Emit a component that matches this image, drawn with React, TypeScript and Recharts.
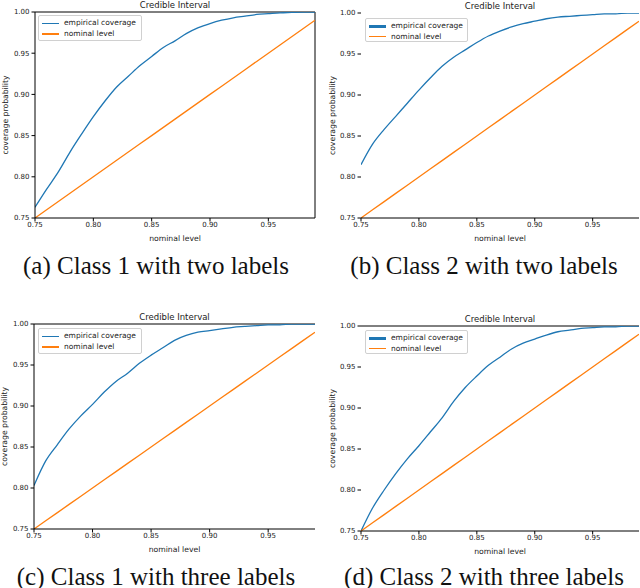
import React from 'react'
import { LineChart, Line, XAxis, YAxis, ReferenceLine, Legend } from 'recharts'

// nominal levels on the x axis
const LEVELS = [
  0.75, 0.76, 0.77, 0.78, 0.79, 0.8, 0.81, 0.82, 0.83, 0.84, 0.85, 0.86, 0.87,
  0.88, 0.89, 0.9, 0.91, 0.92, 0.93, 0.94, 0.95, 0.96, 0.97, 0.98, 0.99,
]
// the orange reference line (coverage = nominal level)
const NOMINAL = [
  0.75, 0.76, 0.77, 0.78, 0.79, 0.8, 0.81, 0.82, 0.83, 0.84, 0.85, 0.86, 0.87,
  0.88, 0.89, 0.9, 0.91, 0.92, 0.93, 0.94, 0.95, 0.96, 0.97, 0.98, 0.99,
]

// empirical coverage, one array per panel
const EMP_A = [
  0.763, 0.785, 0.806, 0.83, 0.852, 0.873, 0.892, 0.909, 0.922, 0.935, 0.946,
  0.957, 0.965, 0.974, 0.981, 0.986, 0.99, 0.993, 0.995, 0.997, 0.998, 0.999,
  0.9995, 1.0, 1.0,
]
const EMP_B = [
  0.815, 0.84, 0.858, 0.874, 0.89, 0.906, 0.921, 0.935, 0.946, 0.955, 0.964,
  0.972, 0.978, 0.983, 0.987, 0.99, 0.993, 0.995, 0.996, 0.997, 0.998, 0.999,
  0.999, 1.0, 1.0,
]
const EMP_C = [
  0.803, 0.833, 0.853, 0.872, 0.888, 0.902, 0.917, 0.93, 0.94, 0.952, 0.962,
  0.971, 0.98, 0.986, 0.99, 0.992, 0.994, 0.996, 0.997, 0.998, 0.999, 0.999,
  1.0, 1.0, 1.0,
]
const EMP_D = [
  0.75, 0.778, 0.8, 0.82, 0.838, 0.854, 0.871, 0.888, 0.908, 0.925, 0.939,
  0.952, 0.962, 0.972, 0.979, 0.984, 0.989, 0.993, 0.995, 0.997, 0.998, 0.999,
  0.999, 1.0, 1.0,
]

const X_TICKS = [0.75, 0.8, 0.85, 0.9, 0.95]
const Y_TICKS = [0.75, 0.8, 0.85, 0.9, 0.95, 1.0]
const CAPTIONS = [
  '(a) Class 1 with two labels',
  '(b) Class 2 with two labels',
  '(c) Class 1 with three labels',
  '(d) Class 2 with three labels',
]

const BLUE = '#1f77b4'
const ORANGE = '#ff7f0e'
const SANS = 'DejaVu Sans'
const SERIF = '"Liberation Serif", "Times New Roman", serif'

type Box = { left: number; top: number; width: number; height: number }

type PanelProps = {
  empirical: number[]
  left: number
  top: number
  height: number
  marginTop: number
  marginRight: number
  yWidth: number
  yLabelX: number
  legend: Box
  thick: 'blue' | 'orange'
  spineLeft: boolean
  spineTop: boolean
  spineRight: boolean
}

function Panel(p: PanelProps) {
  const data = LEVELS.map((x, i) => ({ x, emp: p.empirical[i], nom: NOMINAL[i] }))
  const plotLeft = p.yWidth
  const plotRight = 320 - p.marginRight
  const tick = { fontSize: 7, fill: '#222', fontFamily: SANS }

  const renderLegend = () => (
    <div
      style={{
        width: p.legend.width,
        height: p.legend.height,
        boxSizing: 'border-box',
        border: '1px solid #d0d0d0',
        borderRadius: 2,
        background: 'rgba(255,255,255,0.8)',
        fontFamily: SANS,
        fontSize: 7.5,
        color: '#222',
        paddingTop: 2,
      }}
    >
      {[
        { name: 'empirical coverage', color: BLUE, w: p.thick === 'blue' ? 2.5 : 1.3 },
        { name: 'nominal level', color: ORANGE, w: p.thick === 'orange' ? 2.5 : 1.3 },
      ].map((r) => (
        <div key={r.name} style={{ display: 'flex', alignItems: 'center', height: 10.5 }}>
          <div style={{ marginLeft: 3, width: 17, height: r.w, background: r.color }} />
          <span style={{ marginLeft: 5, lineHeight: '10px' }}>{r.name}</span>
        </div>
      ))}
    </div>
  )

  return (
    <div style={{ position: 'absolute', left: p.left, top: p.top, width: 320, height: p.height }}>
      <div
        style={{
          position: 'absolute',
          left: (plotLeft + plotRight) / 2,
          top: p.marginTop - 7,
          transform: 'translate(-50%, -50%)',
          fontFamily: SANS,
          fontSize: 8.5,
          color: '#222',
          whiteSpace: 'nowrap',
        }}
      >
        Credible Interval
      </div>
      <LineChart
        width={320}
        height={p.height}
        data={data}
        margin={{ top: p.marginTop, right: p.marginRight, bottom: 0, left: 0 }}
      >
        <XAxis
          dataKey="x"
          type="number"
          domain={[0.75, 0.99]}
          ticks={X_TICKS}
          tickFormatter={(v: number) => v.toFixed(2)}
          allowDataOverflow
          height={32}
          tick={tick}
          tickSize={3.5}
          tickMargin={1}
          stroke="#000"
          label={{
            content: ({ viewBox }: any) => (
              <text
                x={viewBox.x + viewBox.width / 2}
                y={viewBox.y + 20}
                textAnchor="middle"
                dominantBaseline="central"
                fontSize={7.7}
                fontFamily={SANS}
                fill="#222"
              >
                nominal level
              </text>
            ),
          }}
        />
        <YAxis
          type="number"
          domain={[0.75, 1.0]}
          ticks={Y_TICKS}
          tickFormatter={(v: number) => v.toFixed(2)}
          allowDataOverflow
          width={p.yWidth}
          tick={tick}
          tickSize={3.5}
          tickMargin={2}
          stroke="#000"
          axisLine={p.spineLeft}
          label={{
            content: ({ viewBox }: any) => {
              const cy = viewBox.y + viewBox.height / 2
              return (
                <text
                  x={p.yLabelX}
                  y={cy}
                  transform={`rotate(-90, ${p.yLabelX}, ${cy})`}
                  textAnchor="middle"
                  dominantBaseline="central"
                  fontSize={7.7}
                  fontFamily={SANS}
                  fill="#222"
                >
                  coverage probability
                </text>
              )
            },
          }}
        />
        {p.spineTop && <ReferenceLine y={1.0} stroke="#000" strokeWidth={1} />}
        {p.spineRight && <ReferenceLine x={0.99} stroke="#000" strokeWidth={1} />}
        <Line
          type="monotone"
          dataKey="emp"
          stroke={BLUE}
          strokeWidth={1.3}
          dot={false}
          isAnimationActive={false}
          name="empirical coverage"
        />
        <Line
          dataKey="nom"
          stroke={ORANGE}
          strokeWidth={1.3}
          dot={false}
          isAnimationActive={false}
          name="nominal level"
        />
        <Legend
          layout="vertical"
          align="center"
          verticalAlign="middle"
          content={renderLegend}
          wrapperStyle={{ left: p.legend.left, top: p.legend.top, width: p.legend.width }}
        />
      </LineChart>
    </div>
  )
}

export default function App() {
  return (
    <div style={{ position: 'absolute', left: 0, top: 0, width: 640, height: 588, background: '#fff' }}>
      <Panel
        empirical={EMP_A}
        left={0}
        top={0}
        height={250}
        marginTop={12}
        marginRight={5}
        yWidth={35}
        yLabelX={5}
        legend={{ left: 38, top: 15, width: 104, height: 26 }}
        thick="orange"
        spineLeft
        spineTop
        spineRight
      />
      <Panel
        empirical={EMP_B}
        left={320}
        top={0}
        height={250}
        marginTop={13}
        marginRight={1}
        yWidth={41}
        yLabelX={12}
        legend={{ left: 45, top: 18, width: 103, height: 24 }}
        thick="blue"
        spineLeft={false}
        spineTop={false}
        spineRight={false}
      />
      <Panel
        empirical={EMP_C}
        left={0}
        top={305}
        height={256}
        marginTop={19}
        marginRight={5}
        yWidth={34}
        yLabelX={4}
        legend={{ left: 38, top: 23, width: 104, height: 26 }}
        thick="orange"
        spineLeft
        spineTop
        spineRight={false}
      />
      <Panel
        empirical={EMP_D}
        left={320}
        top={305}
        height={258}
        marginTop={21}
        marginRight={1}
        yWidth={41}
        yLabelX={12}
        legend={{ left: 45, top: 25, width: 103, height: 24 }}
        thick="blue"
        spineLeft={false}
        spineTop
        spineRight={false}
      />
      {CAPTIONS.map((c, i) => (
        <div
          key={c}
          style={{
            position: 'absolute',
            left: i % 2 === 0 ? 156 : 484,
            top: i < 2 ? 265 : 576,
            transform: 'translate(-50%, -50%)',
            fontFamily: SERIF,
            fontSize: 25,
            color: '#111',
            whiteSpace: 'nowrap',
            lineHeight: 1,
          }}
        >
          {c}
        </div>
      ))}
    </div>
  )
}
